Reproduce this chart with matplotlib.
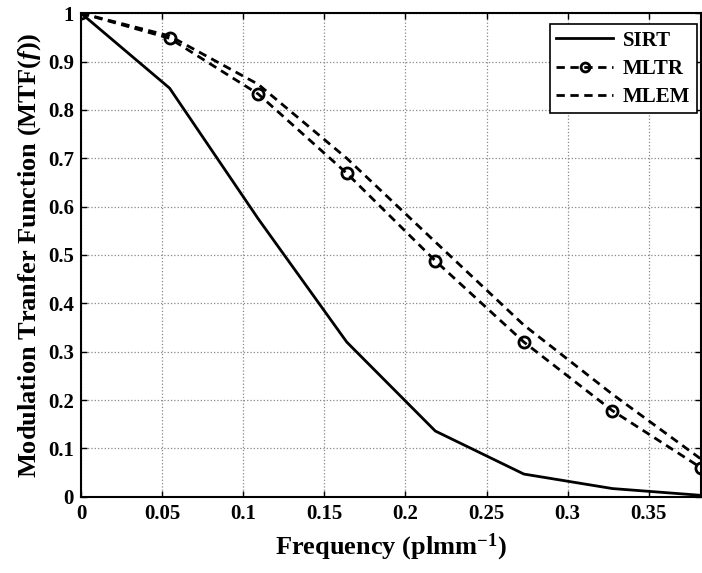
import numpy as np
import matplotlib
matplotlib.use('Agg')
import matplotlib.pyplot as plt

freq = [0.0, 0.0546, 0.1092, 0.1638, 0.2184, 0.2730, 0.3276, 0.3822]
mtf_sirt = [1.0, 0.845, 0.575, 0.32, 0.136, 0.047, 0.017, 0.003]
mtf_mltr = [1.0, 0.948, 0.833, 0.669, 0.488, 0.320, 0.178, 0.060]
mtf_mlem = [1.0, 0.953, 0.853, 0.700, 0.527, 0.355, 0.212, 0.078]

xticks = [0, 0.05, 0.1, 0.15, 0.2, 0.25, 0.3, 0.35]
xtick_labels = ['0', '0.05', '0.1', '0.15', '0.2', '0.25', '0.3', '0.35']
yticks = [0, 0.1, 0.2, 0.3, 0.4, 0.5, 0.6, 0.7, 0.8, 0.9, 1.0]
ytick_labels = ['0', '0.1', '0.2', '0.3', '0.4', '0.5', '0.6', '0.7', '0.8', '0.9', '1']

plt.rcParams['font.family'] = ['Liberation Serif', 'DejaVu Serif']
plt.rcParams['font.weight'] = 'bold'
plt.rcParams['mathtext.fontset'] = 'custom'
plt.rcParams['mathtext.rm'] = 'Liberation Serif:bold'
plt.rcParams['mathtext.it'] = 'Liberation Serif:bold:italic'
plt.rcParams['mathtext.bf'] = 'Liberation Serif:bold'

fig = plt.figure(figsize=(7.02, 5.73), dpi=100)
ax = fig.add_axes([0.1154, 0.133, 0.8832, 0.844])

ax.plot(freq, mtf_sirt, color='black', lw=2, label='SIRT')
ax.plot(freq, mtf_mltr, color='black', lw=2, ls=(0, (3, 2)), marker='o',
        ms=8, mfc='none', mew=2, label='MLTR')
ax.plot(freq, mtf_mlem, color='black', lw=2, ls=(0, (3, 2)), label='MLEM')

ax.set_xlim(0, 0.3822)
ax.set_ylim(0, 1)
ax.set_xticks(xticks)
ax.set_xticklabels(xtick_labels)
ax.set_yticks(yticks)
ax.set_yticklabels(ytick_labels)
ax.tick_params(direction='in', length=4, width=1, labelsize=15, pad=5,
               top=True, right=True)
for lab in ax.get_xticklabels() + ax.get_yticklabels():
    lab.set_fontweight('bold')
ax.grid(True, color='#888888', ls=':', lw=0.9)
for sp in ax.spines.values():
    sp.set_linewidth(1.5)

ax.set_xlabel('Frequency (plmm$^{\\mathbf{-1}}$)', fontsize=19, fontweight='bold', labelpad=6)
ax.set_ylabel('Modulation Tranfer Function (MTF($f$))', fontsize=19, fontweight='bold', labelpad=4)

leg = ax.legend(loc='upper right', fontsize=15, fancybox=False, framealpha=1,
                edgecolor='black', handlelength=2.7, borderpad=0.3,
                labelspacing=0.4, handletextpad=0.5, borderaxespad=0,
                markerscale=0.8, bbox_to_anchor=(0.993, 0.977))
leg.get_frame().set_linewidth(1.2)
for t in leg.get_texts():
    t.set_fontweight('bold')

fig.savefig('out.png', dpi=100)
